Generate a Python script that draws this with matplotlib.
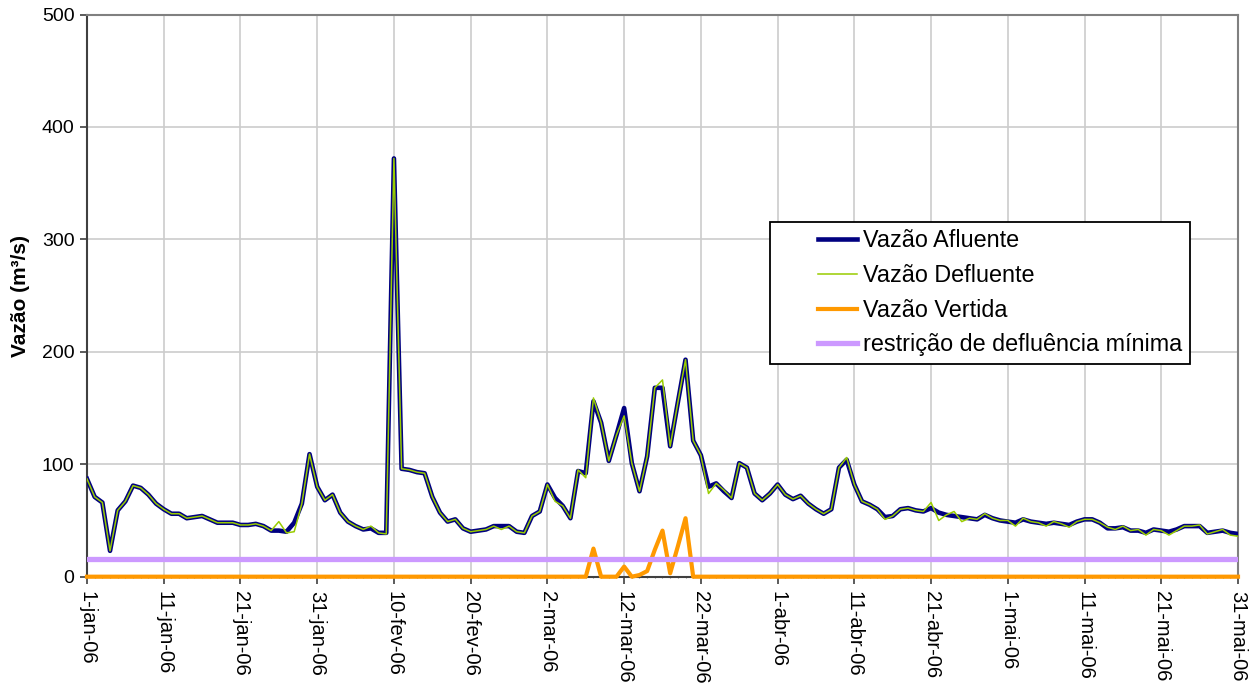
import matplotlib
matplotlib.use("Agg")
import matplotlib.pyplot as plt
from matplotlib.legend_handler import HandlerLine2D
from matplotlib.ticker import FixedLocator, MultipleLocator
import numpy as np
import pandas as pd

plt.rcParams['font.family'] = ['Liberation Sans', 'DejaVu Sans']

# ---------------- data ----------------
dates = pd.date_range("2006-01-01", "2006-05-31", freq="D")

afluente = [
    87, 71, 66, 23, 59, 67, 81, 79, 73, 65,
    60, 56, 56, 52, 53, 54, 51, 48, 48, 48,
    46, 46, 47, 45, 41, 41, 40, 48, 65, 109,
    80, 68, 73, 57, 49, 45, 42, 43, 39, 39,
    372, 96, 95, 93, 92, 71, 57, 49, 51, 43,
    40, 41, 42, 45, 45, 45, 40, 39, 54, 58,
    82, 70, 63, 52, 94, 92, 156, 137, 103, 126,
    150, 101, 76, 107, 168, 168, 116, 155, 193, 121,
    108, 80, 83, 76, 70, 101, 97, 74, 68, 74,
    82, 73, 69, 72, 65, 60, 56, 60, 97, 104,
    82, 67, 64, 60, 53, 54, 60, 61, 59, 58,
    61, 57, 55, 54, 53, 52, 51, 55, 52, 50,
    49, 48, 51, 49, 48, 47, 48, 47, 46, 49,
    51, 51, 48, 43, 43, 44, 41, 41, 39, 42,
    41, 40, 42, 45, 45, 45, 39, 40, 41, 39, 38,
]

defluente = [
    87, 71, 66, 23, 59, 67, 81, 79, 73, 65,
    60, 56, 56, 52, 53, 54, 51, 48, 48, 48,
    46, 46, 47, 45, 41, 49, 39, 40, 65, 109,
    80, 68, 73, 57, 49, 45, 42, 45, 39, 38,
    372, 96, 95, 93, 92, 71, 57, 49, 51, 43,
    40, 41, 42, 45, 42, 45, 40, 39, 54, 58,
    82, 67, 63, 52, 95, 88, 159, 137, 103, 126,
    143, 101, 76, 107, 168, 175, 116, 155, 193, 121,
    108, 74, 83, 77, 70, 101, 97, 74, 68, 74,
    82, 73, 69, 72, 65, 60, 56, 60, 97, 106,
    82, 67, 64, 60, 51, 54, 60, 61, 59, 58,
    66, 50, 55, 58, 49, 52, 51, 56, 52, 50,
    50, 45, 52, 49, 48, 45, 49, 47, 44, 49,
    51, 51, 48, 44, 42, 45, 41, 42, 37, 42,
    41, 37, 41, 45, 45, 46, 38, 40, 42, 37, 36,
]

vertida = [0] * 151
vertida[66] = 25
vertida[70] = 9
vertida[72] = 1.5
vertida[73] = 5
vertida[74] = 24
vertida[75] = 41
vertida[76] = 3
vertida[77] = 27
vertida[78] = 52

restricao = 15.5

tick_labels = ["1-jan-06", "11-jan-06", "21-jan-06", "31-jan-06", "10-fev-06",
               "20-fev-06", "2-mar-06", "12-mar-06", "22-mar-06", "1-abr-06",
               "11-abr-06", "21-abr-06", "1-mai-06", "11-mai-06", "21-mai-06",
               "31-mai-06"]

series_labels = ["Vazão Afluente", "Vazão Defluente", "Vazão Vertida",
                 "restrição de defluência mínima"]

# ---------------- figure ----------------
fig = plt.figure(figsize=(12.58, 6.90), dpi=100)
ax = fig.add_axes([87 / 1258, 1 - 576.7 / 690, 1151 / 1258, 562.2 / 690])

x = dates
l_vt, = ax.plot(x, vertida, color="#FF9900", lw=3.0, zorder=3.0, clip_on=False,
                label=series_labels[2])
l_rs, = ax.plot(x, [restricao] * len(x), color="#CC99FF", lw=3.8, zorder=3.1,
                label=series_labels[3])
l_af, = ax.plot(x, afluente, color="#000080", lw=3.3, zorder=3.2, label=series_labels[0])
l_df, = ax.plot(x, defluente, color="#99CC00", lw=1.1, zorder=3.3, label=series_labels[1])

ax.set_xlim(dates[0], dates[-1])
ax.set_ylim(0, 500)

ax.xaxis.set_major_locator(FixedLocator(matplotlib.dates.date2num(dates[::10])))
ax.set_xticklabels(tick_labels, rotation=-90, fontsize=14.5, va="top", ha="center")
ax.xaxis.set_minor_locator(FixedLocator(matplotlib.dates.date2num(dates)))
ax.yaxis.set_major_locator(MultipleLocator(100))
ax.tick_params(axis="y", labelsize=14, length=5, width=1.2, color="#404040", pad=4)
ax.tick_params(axis="x", which="major", length=5, width=1.2, color="#404040", pad=5)
ax.tick_params(axis="x", which="minor", length=2, width=0.8, color="#808080", direction="inout")

ax.grid(True, which="major", color="#cccccc", lw=1.2, zorder=0)
ax.set_axisbelow(True)

for s in ("left", "bottom"):
    ax.spines[s].set_color("#404040")
    ax.spines[s].set_linewidth(1.5)
for s in ("top", "right"):
    ax.spines[s].set_color("#808080")
    ax.spines[s].set_linewidth(1.5)

ax.set_ylabel("Vazão (m³/s)", fontsize=15, fontweight="bold")
ax.yaxis.set_label_coords(-57 / 1151, 0.5)


class RightHandler(HandlerLine2D):
    frac = 39 / 79

    def create_artists(self, legend, orig_handle, xdescent, ydescent,
                       width, height, fontsize, trans):
        off = width * (1 - self.frac)
        return super().create_artists(legend, orig_handle, xdescent - off, ydescent,
                                      width * self.frac, height, fontsize, trans)


h = RightHandler()
leg = ax.legend(handles=[l_af, l_df, l_vt, l_rs], loc="upper left",
                bbox_to_anchor=((770 - 87) / 1151, (576.7 - 222) / 562.2),
                borderaxespad=0, fontsize=16.8, frameon=True, fancybox=False,
                edgecolor="black", framealpha=1, borderpad=0.32,
                handlelength=3.4, handletextpad=0.27, labelspacing=0.5,
                handler_map={l_af: h, l_df: h, l_vt: h, l_rs: h})
leg.get_frame().set_linewidth(1.3)
leg.set_zorder(10)

fig.savefig("out.png", dpi=100)
